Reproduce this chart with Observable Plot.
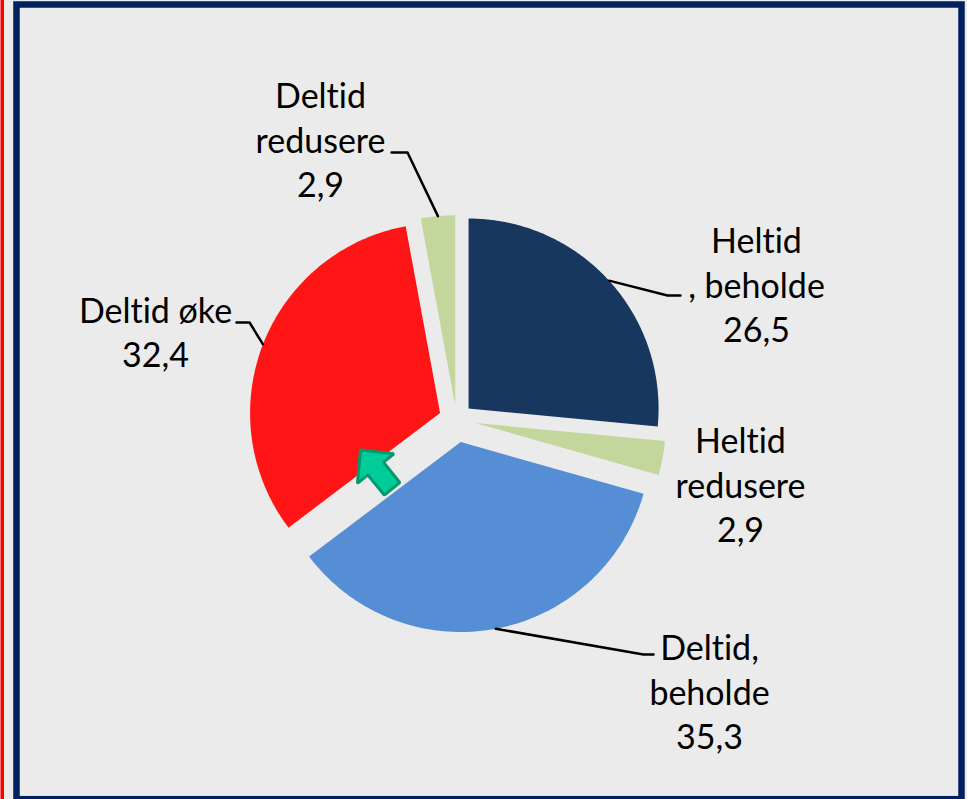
<!DOCTYPE html>
<html><head><meta charset="utf-8">
<script src="https://cdn.jsdelivr.net/npm/d3@7"></script>
<script src="https://cdn.jsdelivr.net/npm/@observablehq/plot@0.6"></script>
<style>html,body{margin:0;padding:0;background:#ebebeb;overflow:hidden;} svg{display:block;} text{font-variant-ligatures:none;font-feature-settings:"liga" 0;}</style>
</head><body><div id="chart"></div>
<script>
// ---- data ----
const categories = ["Heltid, beholde", "Heltid redusere", "Deltid, beholde", "Deltid øke", "Deltid redusere"];
const values = [26.5, 2.9, 35.3, 32.4, 2.9];
const labelNames = ["Heltid\n, beholde", "Heltid\nredusere", "Deltid,\nbeholde", "Deltid øke", "Deltid\nredusere"];

// ---- styles / layout ----
const colors = ["#17375e", "#c3d69b", "#558ed5", "#ff1515", "#c3d69b"];
const explode = [16.3, 19.6, 22.9, 17.6, 14.2];
const W = 967, H = 799;
const center = {x: 456, y: 419}, R = 190;
const labelPos = [{x: 756, y: 283}, {x: 740, y: 483}, {x: 709, y: 690}, {x: 155, y: 330}, {x: 320, y: 138}];
const leaderBends = [[[667, 295], [680, 295]], null, [[643, 654], [653, 654]], [[249, 322], [236, 322]], [[407, 152], [391, 152]]];
const arrowSpec = {tip: [360, 449.5], dir: [-0.631, -0.776], length: 50, headLength: 24, headWidth: 47, shaftWidth: 20};

const fmt = v => v.toFixed(1).replace(".", ",");
const pie = d3.pie().sort(null).value(d => d.value)(categories.map((c, i) => ({name: c, value: values[i], i})));

const slicePts = [], leaders = [], labels = [];
pie.forEach(p => {
  const i = p.data.i;
  const mid = (p.startAngle + p.endAngle) / 2;
  const cx = center.x + explode[i] * Math.sin(mid);
  const cy = center.y - explode[i] * Math.cos(mid);
  const n = Math.max(4, Math.ceil((p.endAngle - p.startAngle) * 80));
  slicePts.push({k: i, x: cx, y: cy, color: colors[i]});
  for (let j = 0; j <= n; j++) {
    const a = p.startAngle + (p.endAngle - p.startAngle) * j / n;
    slicePts.push({k: i, x: cx + R * Math.sin(a), y: cy - R * Math.cos(a), color: colors[i]});
  }
  slicePts.push({k: i, x: cx, y: cy, color: colors[i]});
  if (leaderBends[i]) {
    leaders.push({k: i, x: cx + R * Math.sin(mid), y: cy - R * Math.cos(mid)});
    leaderBends[i].forEach(([x, y]) => leaders.push({k: i, x, y}));
  }
  labels.push({x: labelPos[i].x, y: labelPos[i].y, text: labelNames[i] + "\n" + fmt(p.data.value)});
});

// block arrow
const arrowPts = (() => {
  const {tip, dir, length, headLength, headWidth, shaftWidth} = arrowSpec;
  const u = dir, pp = [-dir[1], dir[0]];
  const at = (along, side) => ({x: tip[0] - u[0] * along + pp[0] * side, y: tip[1] - u[1] * along + pp[1] * side});
  return [at(0, 0), at(headLength, headWidth / 2), at(headLength, shaftWidth / 2), at(length, shaftWidth / 2),
          at(length, -shaftWidth / 2), at(headLength, -shaftWidth / 2), at(headLength, -headWidth / 2), at(0, 0)];
})();

const chart = Plot.plot({
  width: W, height: H, margin: 0,
  x: {domain: [0, W], range: [0, W], axis: null},
  y: {domain: [0, H], range: [0, H], axis: null},
  style: {background: "#ebebeb", fontFamily: "Lato, sans-serif"},
  marks: [
    Plot.ruleX([1.75], {stroke: "#ff0000", strokeWidth: 3.5}),
    Plot.frame({stroke: "#002060", strokeWidth: 6.5, insetLeft: 16, insetTop: 4, insetRight: 6, insetBottom: 0.3}),
    Plot.line(slicePts, {x: "x", y: "y", z: "k", fill: "color", stroke: null, curve: "linear"}),
    Plot.line(leaders, {x: "x", y: "y", z: "k", stroke: "#000", strokeWidth: 2.5}),
    Plot.line(arrowPts, {x: "x", y: "y", fill: "#00cc99", stroke: "#009a6e", strokeWidth: 3, strokeLinejoin: "miter"}),
    Plot.text(labels, {x: "x", y: "y", text: "text", fontSize: 34, lineHeight: 1.3, fill: "#000", textAnchor: "middle", lineAnchor: "middle"})
  ]
});
document.getElementById("chart").append(chart);
</script>
</body></html>
